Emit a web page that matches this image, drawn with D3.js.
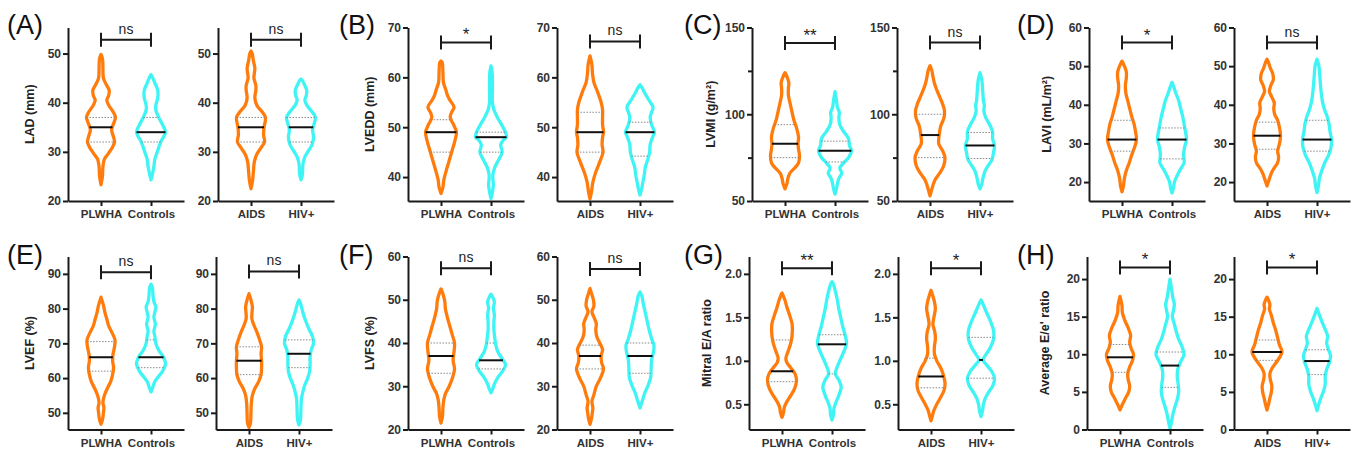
<!DOCTYPE html>
<html>
<head>
<meta charset="utf-8">
<script src="https://cdn.jsdelivr.net/npm/d3@7"></script>
<style>
  body { margin: 0; background: #fff; }
  text { font-family: Arial, "Liberation Sans", sans-serif; }
</style>
</head>
<body>
<svg id="chart" width="1354" height="454"></svg>
<script>
// panel data
var letters = ["A", "B", "C", "D", "E", "F", "G", "H"];
var yLabels = ["LAD (mm)", "LVEDD (mm)", "LVMI (g/m\u00b2)", "LAVI (mL/m\u00b2)",
               "LVEF (%)", "LVFS (%)", "Mitral E/A ratio", "Average E/e' ratio"];
var yDomains = [[20, 55.3], [35.2, 70], [50, 150], [15.1, 60], [45.2, 95], [20, 60], [0.21, 2.2], [0, 23]];
var yTicks = [[20, 30, 40, 50], [40, 50, 60, 70], [50, 100, 150], [20, 30, 40, 50, 60],
              [50, 60, 70, 80, 90], [20, 30, 40, 50, 60], [0.5, 1.0, 1.5, 2.0], [0, 5, 10, 15, 20]];
var minorTicks = [[], [], [75, 125], [], [], [], [], []];
var pairs = [["PLWHA", "Controls"], ["AIDS", "HIV+"]];
var sigText = [["ns", "ns"], ["*", "ns"], ["**", "ns"], ["*", "ns"], ["ns", "ns"], ["ns", "ns"], ["**", "*"], ["*", "*"]];
var sigY = [[52.8, 52.8], [67, 67.2], [141, 141.3], [56.1, 56.1], [90.5, 90.7], [57.3, 57.1], [2.066, 2.066], [21.55, 21.55]];

// order in each row: PLWHA, Controls, AIDS, HIV+
var medians = [[35, 34, 35, 35], [49, 48, 49, 49], [83, 79, 88, 82], [31, 31, 32, 31],
               [66, 66, 65, 67], [37, 36, 37, 37], [0.88, 1.19, 0.82, 1.01], [9.6, 8.5, 10.3, 9.1]];
var q1s = [[32, 32, 32, 32], [45, 45, 45, 44.2], [75, 72.5, 75, 74.5], [28, 26, 28.5, 28],
           [62, 63, 61, 63], [33, 34, 34, 33], [0.76, 0.85, 0.69, 0.80], [7.6, 5.6, 9.2, 7.3]];
var q3s = [[37, 37, 37, 37], [51.5, 49, 53, 51], [94, 84.5, 100, 89.5], [36, 34, 35.5, 36],
           [70.5, 71, 69, 71], [40, 40, 39.5, 40], [1.24, 1.30, 1.03, 1.27], [11.3, 10.3, 11.9, 10.6]];

// violin outlines: [value, density]
var shapeA = [
  [[23.3,0],[25,1.5],[27,2],[28.5,3.5],[29.5,7],[31,12],[32,14],[33,13],[34.5,11],[36,13.5],[37,15],[38,13],[39.5,8],[40.5,6],[41.5,8],[42.5,8.5],[43.5,6],[45,2.5],[47,2],[49,1.5],[49.8,0]],
  [[24.3,0],[25.5,1.5],[27,3],[28.5,4],[30,6.5],[32,10],[34,15],[35.5,12],[37,8],[38.5,5],[39.5,5],[41,7],[42.5,7],[44,4],[45.2,1.5],[45.7,0]],
  [[22.5,0],[24,1.5],[26,2.5],[28,3.5],[29.5,6],[31,11],[32,14],[33.5,13],[35,13.5],[37,15],[38,12],[39.5,6],[41,4],[42.5,5],[43.5,5],[45,3],[46,3.5],[47,4],[48.5,2.5],[50,1.2],[50.5,0]],
  [[24.3,0],[25.5,1.5],[27.5,2],[29,4],[30,7],[31.5,11.5],[33,13],[34.5,12],[36,14],[37,15],[38,12],[39.5,6],[40.5,4],[41.5,5.5],[42.5,6],[43.5,4],[44.5,1.5],[44.8,0]]
];
var shapeB = [
  [[36.7,0],[38,2],[39.5,3],[41,5],[43,8],[45,11],[47,14],[49,16],[50.5,13],[52,9.5],[53,11],[54,13.5],[55.5,9],[56.5,6.5],[57.5,5],[59,2.5],[61,2],[63,1.2],[63.3,0]],
  [[35.7,0],[37,1.5],[38.5,2.5],[39.5,2],[40.5,2],[42,4],[43.5,8],[45,11.5],[46.5,10],[47.5,13],[48,16],[49,15],[50.5,11],[52,6.5],[53.5,3],[55,1.5],[58,1.5],[61,1.2],[62.3,0]],
  [[35.6,0],[37,1.5],[39,3],[41,6],[43,10],[45,13.5],[46.5,12.5],[48,13],[49,14],[50.5,13],[52,13],[53.5,13],[55,11.5],[57,8],[59,4],[61,2.5],[62.5,2],[64.3,0]],
  [[36.4,0],[37.5,1.5],[39,3],[40.5,4.5],[42,5.5],[43.5,8],[45,10],[46.5,10.5],[48,13],[49,15],[50.5,12],[52,10.5],[53,12],[54,13.5],[55.5,9],[57,4.5],[58,2],[58.5,0]]
];
var shapeC = [
  [[57,0],[60,2],[63,3],[66,5],[69,10],[72,14],[76,15],[80,14],[83,13.5],[87,14],[92,12],[97,9],[102,7],[107,5],[111,3.5],[115,3.5],[118,4],[121,2.5],[124,0]],
  [[54,0],[57,1.5],[60,2.5],[63,4],[66,7],[69,5],[72,9],[75,14],[79,17],[82,15],[86,14],[90,9],[94,5],[98,4],[101,4.5],[104,2.5],[108,1.5],[113,0]],
  [[53,0],[56,1.5],[59,3],[62,5],[66,10],[70,14],[75,15.5],[79,13],[83,9],[88,9.5],[93,11],[98,14.5],[102,15],[106,13],[110,10],[114,7],[118,4.5],[122,3],[125,2],[128,0]],
  [[57,0],[60,2],[63,3],[67,5],[70,8],[74,12.5],[78,14],[82,15],[86,13],[90,13],[94,10],[98,6],[102,4],[105,4.5],[108,3.5],[112,3],[116,2.5],[120,1.8],[124,0]]
];
var shapeD = [
  [[17.5,0],[19,1.5],[21,2.5],[23,4.5],[25,7.5],[27,10],[29,13],[31,15],[33,14],[35,12.5],[37,10],[39,8],[41,6],[43,4],[45,3.5],[47,4.5],[48.5,4.5],[50,2.5],[51.3,0]],
  [[17.2,0],[18.5,1.5],[20,2.5],[21.5,5],[23,8],[25,12.5],[27,12],[29,13],[31,15],[33,14],[35,12.5],[37,11],[39,9],[41,7],[43,4],[44.5,2],[45.8,0]],
  [[19,0],[20.5,2],[22,4],[23.5,7],[25,11],[26.5,12],[28,11],[30,13],[32,14],[34,13],[36,11],[37.5,8],[39,7],[40.5,7.5],[42,5],[43.5,2.5],[45,4],[46.5,6.5],[48,6],[49.5,3.5],[51,1.5],[51.8,0]],
  [[17.3,0],[19,1.5],[21,2.5],[23,5],[25,8],[27,12],[29,14.5],[31,15],[33,13.5],[35,12.5],[37,10.5],[39,7.5],[41,5.5],[44,4],[47,3],[50,2],[51.8,0]]
];
var shapeE = [
  [[46.7,0],[48,1.5],[50,2.5],[51.5,3],[53,2],[55,3.5],[57,6.5],[59,10],[61,12],[63,13],[65,12],[67,12.5],[69,14],[71,14.5],[73,11.5],[75,8],[77,6],[79,4],[81,2.5],[83.3,0]],
  [[56,0],[57.5,2],[59,4],[60.5,8],[62,12],[64,15],[66,13],[68,8],[70,5],[72,4],[73.5,3],[75.5,4.5],[77.5,3],[79,4],[80.5,5],[82,3],[84,2],[86,1.5],[87,0]],
  [[45.8,0],[47,1.5],[50,2],[53,2.5],[55,3.5],[57,6],[59,10],[61,12.5],[63,13],[65,13],[67,12.5],[69,13],[71,11],[73,8.5],[75,5.5],[77,3],[78.5,3],[80.5,3.5],[82.5,2],[84.3,0]],
  [[46.5,0],[48,1.5],[51,2],[54,2.5],[56,4],[58,6],[60,9],[62,11],[64,11.5],[66,11.5],[68,12.5],[70,15],[72,14],[74,10.5],[76,7.5],[78,5],[80,3],[81.5,1.5],[82.5,0]]
];
var shapeF = [
  [[21.5,0],[23,1.5],[25,2],[27,3],[28.5,5],[30,8.5],[32,12],[34,14],[36,12.5],[38,13.5],[40,14],[42,11.5],[44,9],[46,6.5],[48,4.5],[49.5,4],[51,2.5],[52.5,0]],
  [[28.5,0],[29.5,2],[30.5,3.5],[32,7],[33.5,12],[35,15],[36.5,11],[38,7],[39.5,5],[41,4],[43,3],[45,3],[46.5,3.5],[48,2.5],[49.5,3.5],[50.5,2],[51.3,0]],
  [[21.2,0],[22.5,1.5],[24,2.5],[25,3],[26.5,2],[28,4],[30,6.5],[32,11],[34,14],[35.5,12],[37,11.5],[38.5,13],[40,10],[41.5,7],[43,6],[44.5,6.5],[46,4],[47.3,2],[48.5,4],[50,3.5],[51.5,1.5],[52.6,0]],
  [[25,0],[26,1.5],[27,3],[28.5,5],[30,8],[32,11],[34,11.5],[36,12],[38,14],[39.5,14.5],[41,12],[43,9.5],[45,7.5],[47,5.5],[49,3.5],[50.8,2],[51.8,0]]
];
var shapeG = [
  [[0.35,0],[0.4,1.5],[0.47,2.5],[0.53,5],[0.6,9],[0.68,13],[0.77,15],[0.85,13.5],[0.92,9],[0.98,5],[1.03,4],[1.1,6],[1.2,9],[1.3,10.5],[1.42,10.5],[1.52,8],[1.62,5],[1.7,3],[1.78,0]],
  [[0.32,0],[0.38,1.5],[0.45,2],[0.52,4],[0.6,7],[0.7,9.5],[0.78,7],[0.85,3.5],[0.92,5],[1.0,8],[1.1,12],[1.2,15],[1.3,13.5],[1.4,11],[1.5,9],[1.6,7],[1.7,5.5],[1.8,3.5],[1.88,1.5],[1.91,0]],
  [[0.31,0],[0.37,1.5],[0.43,3],[0.5,6],[0.58,10],[0.66,13.5],[0.74,14.5],[0.83,13],[0.92,10],[1.0,6],[1.08,3.5],[1.16,3.5],[1.25,4.5],[1.33,4],[1.42,2],[1.5,3],[1.6,4.5],[1.68,3.5],[1.76,1.5],[1.81,0]],
  [[0.36,0],[0.42,1.5],[0.5,2.5],[0.57,4.5],[0.64,8],[0.72,12.5],[0.8,14],[0.88,11],[0.95,6],[1.01,2],[1.07,5],[1.15,9.5],[1.25,13],[1.35,13],[1.45,10],[1.55,6],[1.63,3],[1.7,0]]
];
var shapeH = [
  [[2.6,0],[3.2,2],[4,5],[5,9],[5.8,10],[6.6,8.5],[7.4,8],[8.3,10],[9.2,13],[10,14],[10.8,11.5],[11.6,10],[12.5,11],[13.5,8.5],[14.5,5],[15.5,2.5],[16.5,2],[17.7,0]],
  [[0.1,0],[1,1.5],[2,3],[3,5],[4,7.5],[5,9],[6,8.5],[7,7.5],[8,8],[9,11],[10,14.5],[11,12.5],[12,9],[13,6.5],[14,4.5],[15,2.5],[15.8,3.5],[16.6,4.5],[17.5,3],[18.5,1.8],[20,0]],
  [[2.6,0],[3.3,1.5],[4.2,3],[5,4.5],[5.8,5],[6.6,3.5],[7.4,3],[8.2,5.5],[9,10],[9.8,14],[10.4,15.5],[11.2,13],[12.2,11],[13.2,9],[14.2,6.5],[15.2,4.5],[16,2.5],[16.6,3],[17.2,1.5],[17.6,0]],
  [[2.5,0],[3.2,1.5],[4,3.5],[5,6.5],[6,8.5],[7,8.5],[8,10],[9,13],[9.8,14],[10.6,12],[11.5,10],[12.4,11],[13.3,8.5],[14.2,5.5],[15.2,2.5],[16.1,0]]
];
var shapes = [shapeA, shapeB, shapeC, shapeD, shapeE, shapeF, shapeG, shapeH];
var colors = ["#ff7b0c", "#3ff4f4"];

// layout
var axisX = [[68, 218], [408, 557], [752, 897], [1089, 1234], [68, 216], [408, 557], [749, 898], [1087, 1234]];
var rowTop = [27.5, 256.5], rowBottom = [201, 429.5];
var letterX = [7, 339, 684, 1017];
var labelX = [[30, 370, 711, 1047], [30, 370, 707, 1045]];
var xLen = 116;

var svg = d3.select("#chart");
var wScale = d3.scaleLinear().domain([0, 15]).range([0, 14.5]);

function widthAt(profile, v) {
  for (var i = 1; i < profile.length; i++) {
    if (v <= profile[i][0]) {
      var a = profile[i - 1], b = profile[i];
      return a[1] + (b[1] - a[1]) * (v - a[0]) / (b[0] - a[0]);
    }
  }
  return 0;
}

letters.forEach(function(letter, p) {
  var row = Math.floor(p / 4), col = p % 4;
  var y = d3.scaleLinear().domain(yDomains[p]).range([rowBottom[row], rowTop[row]]);

  svg.append("text")
      .attr("x", letterX[col])
      .attr("y", row === 0 ? 34 : 264)
      .attr("font-size", 27)
      .attr("fill", "#111")
      .text("(" + letter + ")");

  svg.append("text")
      .attr("transform", "translate(" + labelX[row][col] + "," + (rowTop[row] + rowBottom[row]) / 2 + ") rotate(-90)")
      .attr("text-anchor", "middle")
      .attr("dy", "0.35em")
      .attr("font-size", 12.5)
      .attr("font-weight", "bold")
      .attr("fill", "#222")
      .text(yLabels[p]);

  pairs.forEach(function(cats, s) {
    var x0 = axisX[p][s];
    var x = d3.scalePoint().domain(cats).range([0, xLen]).padding(0.66);
    var g = svg.append("g").attr("transform", "translate(" + x0 + ",0)");

    cats.forEach(function(cat, c) {
      var k = s * 2 + c;
      var prof = shapes[p][k];
      var cx = x(cat);
      var area = d3.area()
          .y(function(d) { return y(d[0]); })
          .x0(function(d) { return cx - wScale(d[1]); })
          .x1(function(d) { return cx + wScale(d[1]); })
          .curve(d3.curveCatmullRom);
      g.append("path")
          .attr("d", area(prof))
          .attr("fill", "none")
          .attr("stroke", colors[c])
          .attr("stroke-width", 3.3)
          .attr("stroke-linejoin", "round");

      [q1s[p][k], q3s[p][k]].forEach(function(q) {
        var hw = wScale(widthAt(prof, q));
        g.append("line")
            .attr("x1", cx - hw).attr("x2", cx + hw)
            .attr("y1", y(q)).attr("y2", y(q))
            .attr("stroke", "#888")
            .attr("stroke-width", 1)
            .attr("stroke-dasharray", "1.5,1.5");
      });
      var mw = wScale(widthAt(prof, medians[p][k]));
      g.append("line")
          .attr("x1", cx - mw).attr("x2", cx + mw)
          .attr("y1", y(medians[p][k])).attr("y2", y(medians[p][k]))
          .attr("stroke", "#111")
          .attr("stroke-width", 2);
    });

    // axes
    var yAxis = d3.axisLeft(y).tickValues(yTicks[p]).tickSize(5).tickSizeOuter(0)
        .tickFormat(p === 6 ? d3.format(".1f") : d3.format("d"));
    var ya = g.append("g").call(yAxis);
    if (minorTicks[p].length) {
      g.append("g").call(d3.axisLeft(y).tickValues(minorTicks[p]).tickSize(4).tickFormat(""))
          .select(".domain").remove();
    }
    var xa = g.append("g")
        .attr("transform", "translate(0," + rowBottom[row] + ")")
        .call(d3.axisBottom(x).tickSize(5).tickSizeOuter(0));
    [ya, xa].forEach(function(a) {
      a.select(".domain").attr("stroke", "#1a1a1a").attr("stroke-width", 2);
      a.selectAll(".tick text")
          .attr("font-family", "Arial, 'Liberation Sans', sans-serif")
          .attr("font-weight", "bold")
          .attr("fill", "#333");
    });
    ya.selectAll(".tick text").attr("font-size", 12).attr("x", -7);
    xa.selectAll(".tick text").attr("font-size", 11.5).attr("y", 9);
    g.selectAll(".tick line").attr("stroke", "#1a1a1a").attr("stroke-width", 2);

    // significance bracket
    var by = y(sigY[p][s]);
    var bx1 = x(cats[0]), bx2 = x(cats[1]);
    g.append("path")
        .attr("d", d3.line()([[bx1, by], [bx2, by]]) + d3.line()([[bx1, by - 7], [bx1, by + 7]]) + d3.line()([[bx2, by - 7], [bx2, by + 7]]))
        .attr("stroke", "#1a1a1a")
        .attr("stroke-width", 2)
        .attr("fill", "none");
    var star = sigText[p][s] !== "ns";
    g.append("text")
        .attr("x", (bx1 + bx2) / 2)
        .attr("y", by - (star ? 2 : 6))
        .attr("text-anchor", "middle")
        .attr("font-size", star ? 17 : 14)
        .attr("fill", "#222")
        .text(sigText[p][s]);
  });
});
</script>
</body>
</html>
